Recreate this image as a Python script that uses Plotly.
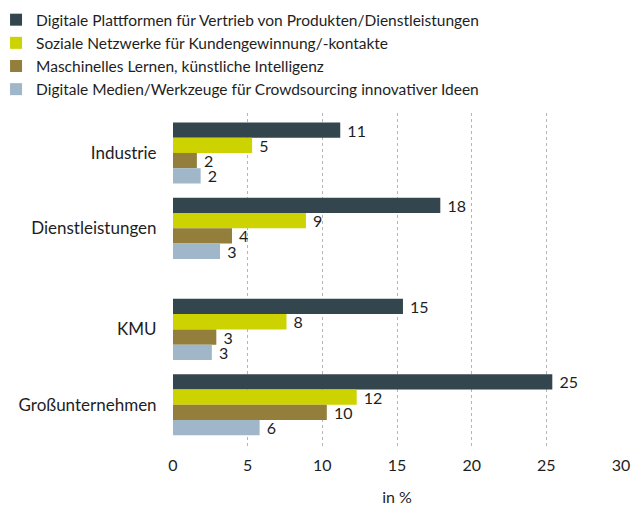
import plotly.graph_objects as go

categories = ["Industrie", "Dienstleistungen", "KMU", "Großunternehmen"]
series_names = [
    "Digitale Plattformen für Vertrieb von Produkten/Dienstleistungen",
    "Soziale Netzwerke für Kundengewinnung/-kontakte",
    "Maschinelles Lernen, künstliche Intelligenz",
    "Digitale Medien/Werkzeuge für Crowdsourcing innovativer Ideen",
]
plattformen = [11.2, 17.9, 15.4, 25.4]
netzwerke = [5.3, 8.9, 7.6, 12.3]
lernen = [1.6, 3.95, 2.9, 10.3]
medien = [1.85, 3.15, 2.6, 5.8]
plattformen_lbl = ["11", "18", "15", "25"]
netzwerke_lbl = ["5", "9", "8", "12"]
lernen_lbl = ["2", "4", "3", "10"]
medien_lbl = ["2", "3", "3", "6"]
x_ticks = [0, 5, 10, 15, 20, 25, 30]

colors = ["#33464e", "#ccd300", "#937f3b", "#a0b6c9"]
# category placement (gap between sector and size groups)
y_pos = [0, 1, 2.34, 3.34]

FONT = "Lato"
TXT = "#1e1e1e"

fig = go.Figure()
for name, vals, lbls, col in zip(series_names,
                                 [plattformen, netzwerke, lernen, medien],
                                 [plattformen_lbl, netzwerke_lbl, lernen_lbl, medien_lbl],
                                 colors):
    fig.add_trace(go.Bar(
        y=y_pos, x=vals, name=name, orientation="h",
        marker=dict(color=col, line=dict(width=0)),
        text=[" " + t for t in lbls], textposition="outside",
        textfont=dict(family=FONT, size=16, color=TXT),
        constraintext="none", cliponaxis=False,
        hoverinfo="skip",
    ))

fig.update_layout(
    width=633, height=508,
    margin=dict(l=173, r=12, t=113, b=61, autoexpand=False),
    paper_bgcolor="white", plot_bgcolor="white",
    barmode="group", bargap=0.19, bargroupgap=0,
    font=dict(family=FONT, size=15, color=TXT),
    showlegend=True,
    legend=dict(
        xref="paper", yref="paper",
        x=-0.395, y=1.329, xanchor="left", yanchor="top",
        font=dict(family=FONT, size=15.5, color=TXT),
        tracegroupgap=0, itemclick=False,
        bgcolor="rgba(0,0,0,0)",
    ),
    xaxis=dict(
        range=[0, 30], tickvals=x_ticks, ticktext=[str(v) for v in x_ticks],
        showgrid=True, gridcolor="#b5b5b5", griddash="dot", gridwidth=1,
        zeroline=False, showline=False,
        ticks="outside", ticklen=4, tickcolor="rgba(0,0,0,0)",
        tickfont=dict(family=FONT, size=16, color=TXT),
        ticklabeloverflow="allow",
        title=dict(text="in %", font=dict(family=FONT, size=16, color=TXT), standoff=18),
        fixedrange=True, automargin=False,
    ),
    yaxis=dict(
        range=[3.9, -0.53], tickvals=y_pos, ticktext=categories,
        showgrid=False, zeroline=False, showline=False,
        ticks="outside", ticklen=12, tickcolor="rgba(0,0,0,0)",
        tickfont=dict(family=FONT, size=17, color=TXT),
        fixedrange=True, automargin=False,
    ),
)

# remove the browser's default 8px page margin so the figure fills the window
fig.write_html(
    "out.html",
    config={"displayModeBar": False, "responsive": False},
    post_script="document.body.style.margin='0';document.body.style.overflow='hidden';",
)
